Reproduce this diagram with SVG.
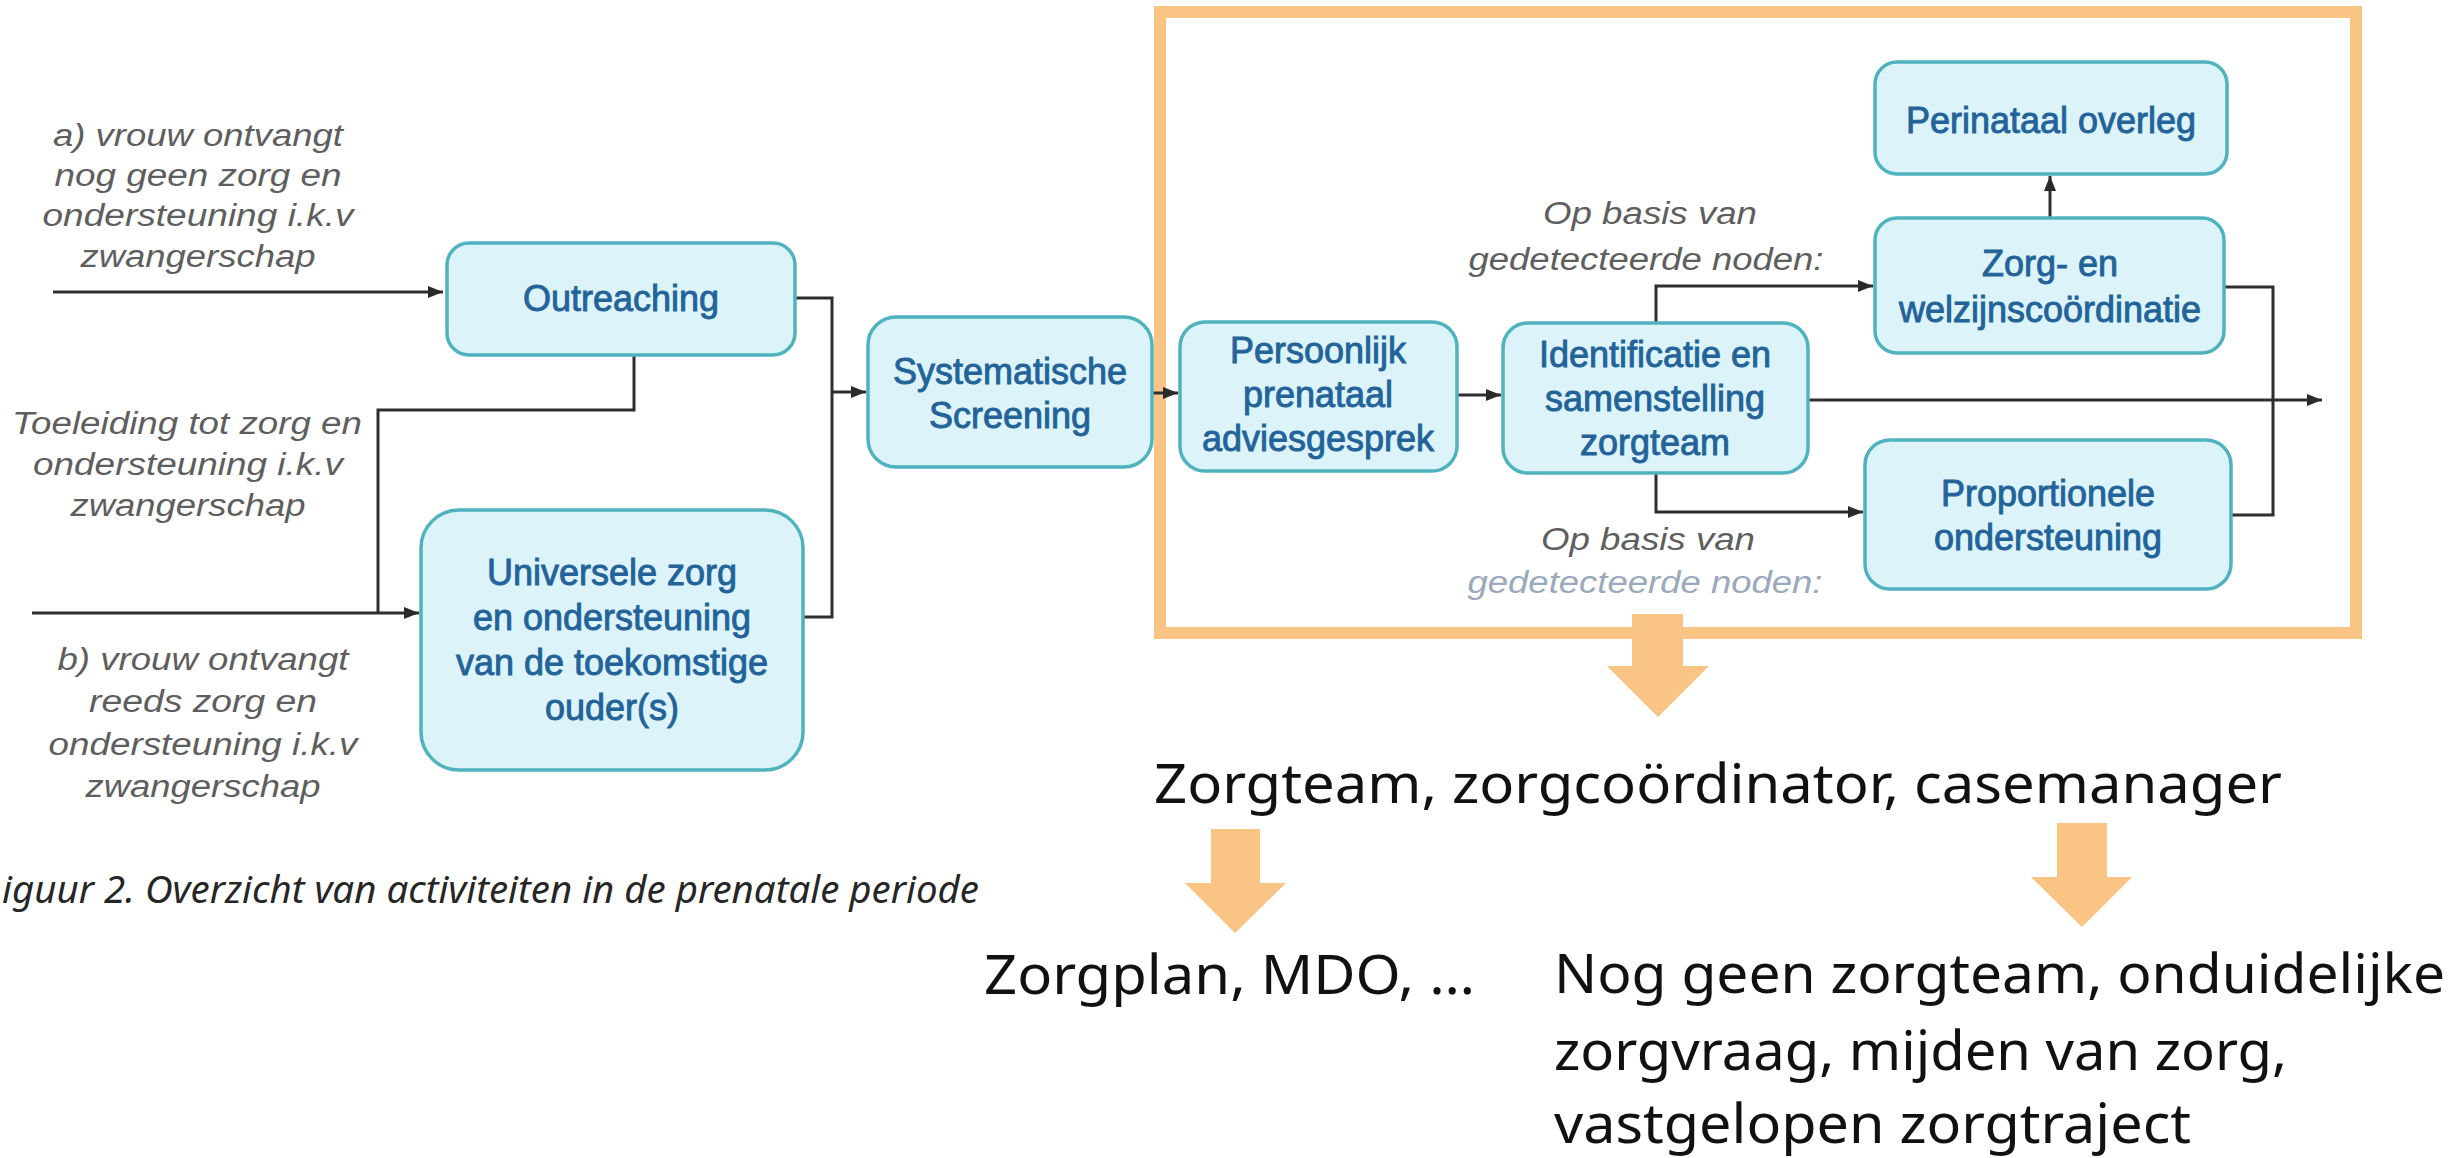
<svg xmlns="http://www.w3.org/2000/svg" width="2453" height="1158" viewBox="0 0 2453 1158">
<defs>
<marker id="ah" markerUnits="userSpaceOnUse" markerWidth="16" markerHeight="14" refX="15" refY="7" orient="auto">
<path d="M0,1 L15,7 L0,13 Z" fill="#2a2a2a"/>
</marker>
<style>
.node rect{fill:#dcf4f9;stroke:#4fb3bf;stroke-width:3.5}
.node text{font-family:"Liberation Sans",Arial,sans-serif;font-size:36px;fill:#23639a;stroke:#23639a;stroke-width:0.9;text-anchor:middle}
.lbl{font-family:"Liberation Sans",Arial,sans-serif;font-style:italic;font-size:31px;fill:#5e5e5e;text-anchor:middle}
.conn path{fill:none;stroke:#2e2e2e;stroke-width:3}
.big{font-family:"Noto Sans","Open Sans",sans-serif;font-size:55px;fill:#111}
.cap{font-family:"Noto Sans","Open Sans",sans-serif;font-style:italic;font-size:38px;fill:#262626}
.orange{fill:#f9c484}
</style>
</defs>
<rect width="2453" height="1158" fill="#ffffff"/>

<!-- orange frame -->
<rect x="1160" y="12" width="1196" height="621" fill="none" stroke="#f9c484" stroke-width="12"/>

<!-- labels -->
<g id="label-a">
<text class="lbl" x="198" y="146" textLength="290" lengthAdjust="spacingAndGlyphs">a) vrouw ontvangt</text>
<text class="lbl" x="198" y="186" textLength="287" lengthAdjust="spacingAndGlyphs">nog geen zorg en</text>
<text class="lbl" x="198" y="226" textLength="311" lengthAdjust="spacingAndGlyphs">ondersteuning i.k.v</text>
<text class="lbl" x="198" y="267" textLength="235" lengthAdjust="spacingAndGlyphs">zwangerschap</text>
</g>
<g id="label-toeleiding">
<text class="lbl" x="187" y="434" textLength="350" lengthAdjust="spacingAndGlyphs">Toeleiding tot zorg en</text>
<text class="lbl" x="188" y="475" textLength="310" lengthAdjust="spacingAndGlyphs">ondersteuning i.k.v</text>
<text class="lbl" x="188" y="516" textLength="235" lengthAdjust="spacingAndGlyphs">zwangerschap</text>
</g>
<g id="label-b">
<text class="lbl" x="203" y="670" textLength="291" lengthAdjust="spacingAndGlyphs">b) vrouw ontvangt</text>
<text class="lbl" x="203" y="712" textLength="228" lengthAdjust="spacingAndGlyphs">reeds zorg en</text>
<text class="lbl" x="203" y="755" textLength="309" lengthAdjust="spacingAndGlyphs">ondersteuning i.k.v</text>
<text class="lbl" x="203" y="797" textLength="235" lengthAdjust="spacingAndGlyphs">zwangerschap</text>
</g>
<g id="label-top">
<text class="lbl" x="1650" y="224" textLength="214" lengthAdjust="spacingAndGlyphs">Op basis van</text>
<text class="lbl" x="1646" y="270" textLength="355" lengthAdjust="spacingAndGlyphs">gedetecteerde noden:</text>
</g>
<g id="label-bottom">
<text class="lbl" x="1648" y="550" textLength="214" lengthAdjust="spacingAndGlyphs">Op basis van</text>
<text class="lbl" x="1645" y="593" textLength="355" lengthAdjust="spacingAndGlyphs" style="fill:#9aa9bb">gedetecteerde noden:</text>
</g>

<!-- connectors -->
<g id="connectors" class="conn">
<path d="M53,292 H443" marker-end="url(#ah)"/>
<path d="M32,613 H419" marker-end="url(#ah)"/>
<path d="M634,355 V410 H378 V613"/>
<path d="M795,298 H832 V617 H803"/>
<path d="M832,392 H866" marker-end="url(#ah)"/>
<path d="M1152,393 H1178" marker-end="url(#ah)"/>
<path d="M1457,395 H1501" marker-end="url(#ah)"/>
<path d="M1808,400 H2322" marker-end="url(#ah)"/>
<path d="M1656,323 V286 H1873" marker-end="url(#ah)"/>
<path d="M1656,473 V512 H1863" marker-end="url(#ah)"/>
<path d="M2050,218 V176" marker-end="url(#ah)"/>
<path d="M2224,287 H2273 V515 H2231"/>
</g>

<!-- nodes -->
<g id="outreaching" class="node">
<rect x="447" y="243" width="348" height="112" rx="22"/>
<text x="621" y="311">Outreaching</text>
</g>
<g id="universele" class="node">
<rect x="421" y="510" width="382" height="260" rx="38"/>
<text x="612" y="585">Universele zorg</text>
<text x="612" y="630">en ondersteuning</text>
<text x="612" y="675">van de toekomstige</text>
<text x="612" y="720">ouder(s)</text>
</g>
<g id="screening" class="node">
<rect x="868" y="317" width="284" height="150" rx="28"/>
<text x="1010" y="384">Systematische</text>
<text x="1010" y="428">Screening</text>
</g>
<g id="persoonlijk" class="node">
<rect x="1180" y="322" width="277" height="149" rx="25"/>
<text x="1318" y="363">Persoonlijk</text>
<text x="1318" y="407">prenataal</text>
<text x="1318" y="451">adviesgesprek</text>
</g>
<g id="identificatie" class="node">
<rect x="1503" y="323" width="305" height="150" rx="25"/>
<text x="1655" y="367">Identificatie en</text>
<text x="1655" y="411">samenstelling</text>
<text x="1655" y="455">zorgteam</text>
</g>
<g id="perinataal" class="node">
<rect x="1875" y="62" width="352" height="112" rx="22"/>
<text x="2051" y="133">Perinataal overleg</text>
</g>
<g id="coordinatie" class="node">
<rect x="1875" y="218" width="349" height="135" rx="22"/>
<text x="2050" y="276">Zorg- en</text>
<text x="2050" y="322">welzijnscoördinatie</text>
</g>
<g id="proportionele" class="node">
<rect x="1865" y="440" width="366" height="149" rx="25"/>
<text x="2048" y="506">Proportionele</text>
<text x="2048" y="550">ondersteuning</text>
</g>

<!-- caption -->
<text class="cap" x="2" y="903" textLength="977" lengthAdjust="spacingAndGlyphs">iguur 2. Overzicht van activiteiten in de prenatale periode</text>

<!-- orange arrows -->
<g id="arrow-main">
<polygon class="orange" points="1632,614 1683,614 1683,666 1709,666 1658,717 1607,666 1632,666"/>
</g>
<g id="arrow-left">
<polygon class="orange" points="1211,829 1260,829 1260,883 1286,883 1235,933 1185,883 1211,883"/>
</g>
<g id="arrow-right">
<polygon class="orange" points="2057,823 2107,823 2107,877 2132,877 2082,927 2031,877 2057,877"/>
</g>

<!-- bottom texts -->
<g id="zorgteam">
<text class="big" x="1154" y="803" textLength="1128" lengthAdjust="spacingAndGlyphs">Zorgteam, zorgcoördinator, casemanager</text>
</g>
<g id="zorgplan">
<text class="big" x="984" y="994" textLength="491" lengthAdjust="spacingAndGlyphs">Zorgplan, MDO, …</text>
</g>
<g id="nog-geen">
<text class="big" x="1554" y="993" textLength="891" lengthAdjust="spacingAndGlyphs">Nog geen zorgteam, onduidelijke</text>
<text class="big" x="1554" y="1070" textLength="733" lengthAdjust="spacingAndGlyphs">zorgvraag, mijden van zorg,</text>
<text class="big" x="1554" y="1143" textLength="637" lengthAdjust="spacingAndGlyphs">vastgelopen zorgtraject</text>
</g>
</svg>
